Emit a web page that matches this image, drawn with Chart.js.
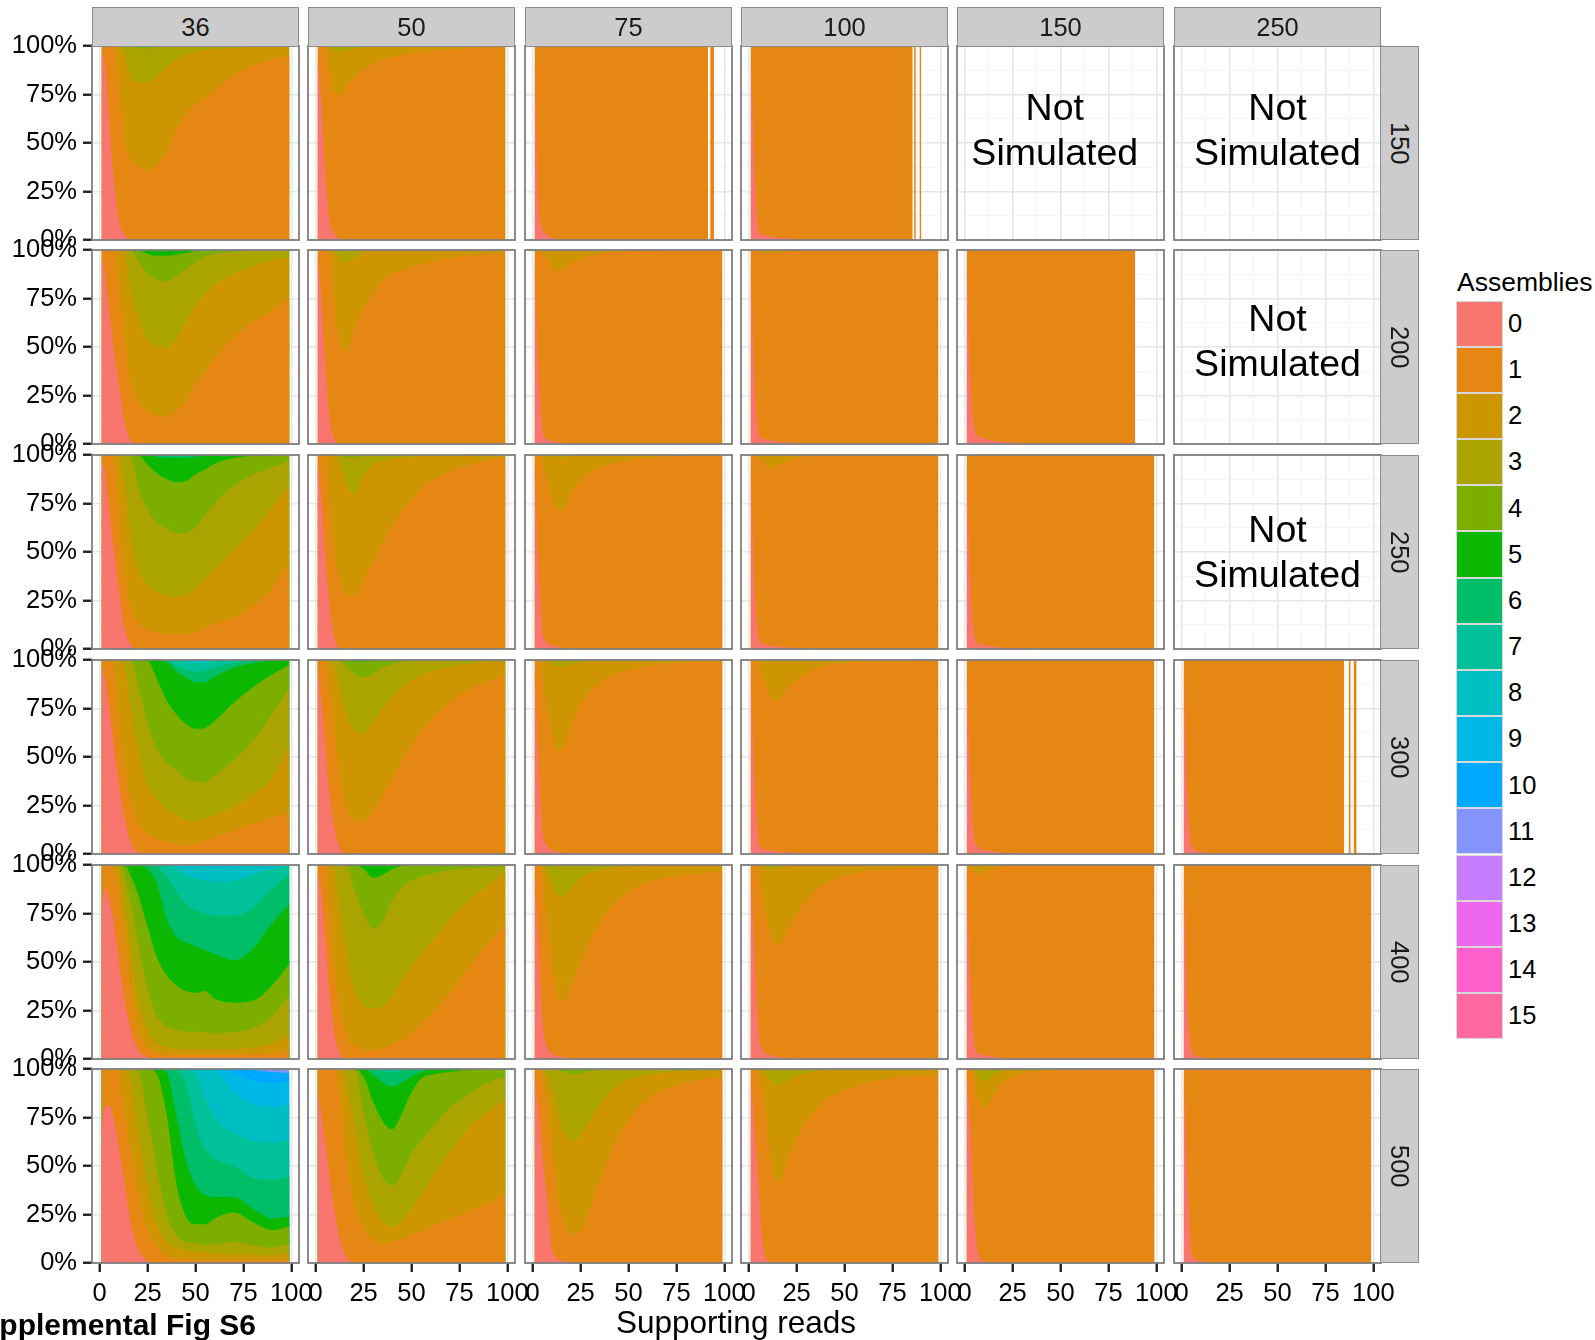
<!DOCTYPE html>
<html>
<head>
<meta charset="utf-8">
<title>Supplemental Fig S6</title>
<script src="https://cdn.jsdelivr.net/npm/chart.js@4.4.1/dist/chart.umd.min.js"></script>
<style>
  html, body { margin: 0; padding: 0; background: #fff; }
  body { width: 1595px; height: 1340px; position: relative; overflow: hidden;
         font-family: "Liberation Sans", Arial, Helvetica, sans-serif; color: #000; }
  .strip { position: absolute; box-sizing: border-box; background: #cccccc; border: 1.5px solid #8c8c8c;
           display: flex; align-items: center; justify-content: center; font-size: 25.5px; color: #1a1a1a; }
  .strip.side span { writing-mode: vertical-rl; }
  .key { position: absolute; box-sizing: border-box; width: 47px; border: 1px solid #d9d9d9; }
  .lab { position: absolute; white-space: nowrap; }
</style>
</head>
<body>
<script>
// facet labels: rows on the right strip, columns on the top strip
const readLengths = ['150', '200', '250', '300', '400', '500'];
const coverages = ['36', '50', '75', '100', '150', '250'];

// one colour per assembly count (ggplot hue palette, 16 levels)
const assemblyLevels = ['0', '1', '2', '3', '4', '5', '6', '7', '8', '9', '10', '11', '12', '13', '14', '15'];
const assemblyColors = ['#F8766D', '#E68613', '#CD9600', '#ABA300', '#7CAE00', '#0CB702', '#00BE67', '#00C19A',
                        '#00BFC4', '#00B8E7', '#00A9FF', '#8494FF', '#C77CFF', '#ED68ED', '#FF61CC', '#FF68A1'];

const reads = [1, 3, 5, 7, 10, 13, 16, 20, 25, 30, 35, 40, 45, 50, 55, 60, 70, 80, 90, 99];
const top100 = [100, 100, 100, 100, 100, 100, 100, 100, 100, 100, 100, 100, 100, 100, 100, 100, 100, 100, 100, 100];

// each panel: upper edge (cumulative %) of the band for 0, 1, 2 ... assemblies
const p150_36 = [
  [98, 89, 60, 35, 10, 3, 0.5, 0, 0, 0, 0, 0, 0, 0, 0, 0, 0, 0, 0, 0],
  [100, 100, 100, 100, 81, 52, 42, 38, 36, 39, 46, 57, 65, 70, 73, 77, 85, 90, 93, 95],
  [100, 100, 100, 100, 100, 95, 85, 81, 81.5, 84.5, 89, 93, 95.5, 97, 98, 98.5, 99, 99.5, 100, 100],
  [100, 100, 100, 100, 100, 100, 100, 99, 98.8, 99.3, 99.7, 100, 100, 100, 100, 100, 100, 100, 100, 100],
  top100
];
const p200_36 = [
  [98, 87, 68, 52, 31, 12, 2, 0, 0, 0, 0, 0, 0, 0, 0, 0, 0, 0, 0, 0],
  [100, 100, 100, 100, 82, 55, 33, 21, 17, 14.5, 14, 17, 22, 31, 37, 44, 55, 63, 69, 75],
  [100, 100, 100, 100, 100, 100, 80, 65, 54, 50.5, 49.5, 54, 63, 71, 77, 82, 87.5, 91.5, 94.5, 96],
  [100, 100, 100, 100, 100, 100, 100, 95, 88, 84.5, 84, 86.5, 90.5, 94, 96.5, 98, 99, 99.7, 100, 100],
  [100, 100, 100, 100, 100, 100, 100, 100, 98, 97, 97, 97.5, 98.5, 99.5, 100, 100, 100, 100, 100, 100],
  top100
];
const p250_36 = [
  [98, 90, 70, 55, 30, 11, 3, 0, 0, 0, 0, 0, 0, 0, 0, 0, 0, 0, 0, 0],
  [100, 100, 100, 100, 71, 40, 23, 14, 10, 8.5, 8, 7.5, 8, 9, 11, 13, 16, 22, 31, 45],
  [100, 100, 100, 100, 100, 85, 60, 42, 33, 29, 27.5, 27, 28, 31.5, 36, 41, 51, 61, 73, 85],
  [100, 100, 100, 100, 100, 100, 100, 84, 72, 65, 62, 59.5, 59.5, 63, 69, 75, 84, 90, 93.6, 97],
  [100, 100, 100, 100, 100, 100, 100, 100, 95, 90.5, 87.5, 86, 86.5, 90, 92.5, 95.5, 98.5, 99.5, 100, 100],
  [100, 100, 100, 100, 100, 100, 100, 100, 100, 99, 98.5, 98.5, 98.5, 99, 99.5, 100, 100, 100, 100, 100],
  top100
];
const p300_36 = [
  [98, 90, 75, 59, 36, 19, 6.5, 1, 0, 0, 0, 0, 0, 0, 0, 0, 0, 0, 0, 0],
  [100, 100, 100, 98, 67, 46, 28, 16, 10, 7.5, 6, 5, 4.5, 5, 7, 8.5, 12, 15.5, 18.5, 21.5],
  [100, 100, 100, 100, 100, 97, 76, 54, 35, 28, 23, 20, 17.5, 17, 18, 20, 24.5, 30.5, 39, 57],
  [100, 100, 100, 100, 100, 100, 100, 88, 67, 54, 47, 43, 39, 37.5, 37, 40.5, 48.5, 58.5, 72, 86],
  [100, 100, 100, 100, 100, 100, 100, 100, 99.5, 90, 79, 72, 67, 64.5, 65, 68.5, 78, 86, 92.5, 97.5],
  [100, 100, 100, 100, 100, 100, 100, 100, 100, 100, 99, 94, 91, 88.5, 88.5, 91.5, 96, 98.5, 99.7, 100],
  [100, 100, 100, 100, 100, 100, 100, 100, 100, 100, 99.5, 97, 95, 94, 94.5, 96, 98.5, 99.5, 100, 100],
  [100, 100, 100, 100, 100, 100, 100, 100, 100, 100, 100, 100, 99, 98.5, 98.5, 99.3, 100, 100, 100, 100],
  top100
];
const p400_36 = [
  [80, 88, 82, 73, 51, 30, 16, 5, 1, 0, 0, 0, 0, 0, 0, 0, 0, 0, 0, 0],
  [100, 100, 100, 98, 85, 60, 38, 16, 6, 3, 2, 2, 2, 2, 2, 2, 2, 2.5, 3, 4],
  [100, 100, 100, 100, 98, 80, 58, 32, 15, 8, 6, 5, 5, 5, 5, 5, 5, 6, 8, 13],
  [100, 100, 100, 100, 100, 95, 82, 60, 36, 22, 17, 15, 14, 14, 14, 13, 14, 16, 22, 33],
  [100, 100, 100, 100, 100, 100, 95, 85, 68, 52, 43, 38, 35, 34, 35, 31, 29, 30, 38, 49],
  [100, 100, 100, 100, 100, 100, 100, 100, 98, 90, 72, 63, 60, 58, 56, 54, 51, 57, 70, 80],
  [100, 100, 100, 100, 100, 100, 100, 100, 100, 99, 94, 86, 80, 77, 75, 74, 74, 78, 88, 95],
  [100, 100, 100, 100, 100, 100, 100, 100, 100, 100, 100, 98, 95, 93, 92, 91, 92, 95, 98, 99.5],
  [100, 100, 100, 100, 100, 100, 100, 100, 100, 100, 100, 100, 99.8, 99.5, 99, 99, 99.3, 99.7, 100, 100],
  top100
];
const p500_36 = [
  [70, 81, 81, 76, 60, 41, 22, 7.5, 1, 0, 0, 0, 0, 0, 0, 0, 0, 0, 0, 0],
  [100, 100, 100, 100, 96, 78, 59, 36, 17, 8, 4, 2.5, 2, 1.5, 1.5, 1.5, 1.5, 1.5, 1.5, 1.5],
  [100, 100, 100, 100, 100, 100, 94, 69, 39, 20, 11, 8, 6.5, 6, 5.5, 5, 4.5, 4, 4, 5],
  [100, 100, 100, 100, 100, 100, 100, 99, 75, 48, 25, 14, 11, 10, 9.5, 9.5, 11, 9, 8, 9.5],
  [100, 100, 100, 100, 100, 100, 100, 100, 100, 97, 76, 41, 24, 20, 20, 23, 26, 21, 17, 19],
  [100, 100, 100, 100, 100, 100, 100, 100, 100, 100, 98, 76, 53, 40, 35, 34, 34, 28, 23, 24],
  [100, 100, 100, 100, 100, 100, 100, 100, 100, 100, 100, 100, 92, 71, 59, 54, 50, 44, 43, 44.5],
  [100, 100, 100, 100, 100, 100, 100, 100, 100, 100, 100, 100, 100, 98, 85, 75, 67, 63, 62, 63.5],
  [100, 100, 100, 100, 100, 100, 100, 100, 100, 100, 100, 100, 100, 100, 100, 99.5, 88, 82, 80.5, 82],
  [100, 100, 100, 100, 100, 100, 100, 100, 100, 100, 100, 100, 100, 100, 100, 100, 98.5, 94, 92.5, 94],
  [100, 100, 100, 100, 100, 100, 100, 100, 100, 100, 100, 100, 100, 100, 100, 100, 100, 99.5, 98.5, 98],
  top100
];

const p150_50 = [
  [95, 70, 35, 12, 3, 0.5, 0, 0, 0, 0, 0, 0, 0, 0, 0, 0, 0, 0, 0, 0],
  [100, 100, 100, 88, 76, 75, 79, 84, 88, 91, 93, 94.5, 95.5, 96.5, 97, 97.5, 98.3, 99, 99.5, 99.7],
  [100, 100, 100, 99.5, 98, 97, 97.5, 98.5, 99.5, 100, 100, 100, 100, 100, 100, 100, 100, 100, 100, 100],
  top100
];
const p200_50 = [
  [98, 75, 41, 16, 2, 0, 0, 0, 0, 0, 0, 0, 0, 0, 0, 0, 0, 0, 0, 0],
  [100, 100, 100, 98, 70, 51, 48, 59, 70, 77.5, 84, 87.6, 89.5, 91.3, 92.5, 94, 95.8, 97, 97.8, 98.3],
  [100, 100, 100, 100, 99, 95, 93.5, 96, 99, 99.7, 100, 100, 100, 100, 100, 100, 100, 100, 100, 100],
  top100
];
const p250_50 = [
  [97, 77, 48, 25, 5, 0, 0, 0, 0, 0, 0, 0, 0, 0, 0, 0, 0, 0, 0, 0],
  [100, 100, 100, 80, 49, 34, 28, 28, 36, 45, 54.5, 63, 71, 77, 82.5, 86.5, 91.5, 95, 97.2, 98.6],
  [100, 100, 100, 100, 99.5, 94, 85, 80, 90, 95, 97, 98, 98.6, 99, 99.3, 99.5, 99.8, 100, 100, 100],
  [100, 100, 100, 100, 100, 100, 99, 99, 99.5, 100, 100, 100, 100, 100, 100, 100, 100, 100, 100, 100],
  top100
];
const p300_50 = [
  [97, 80, 55, 33, 12, 3, 0.5, 0, 0, 0, 0, 0, 0, 0, 0, 0, 0, 0, 0, 0],
  [100, 100, 100, 88, 62, 38, 24, 17, 17, 22, 30, 39, 48, 56, 63, 69, 78, 85, 89, 92],
  [100, 100, 100, 100, 96, 85, 72, 64, 62, 68, 75, 81, 86, 89.5, 92, 94, 96.5, 98, 99, 99.5],
  [100, 100, 100, 100, 100, 99, 97, 93, 91, 93, 96, 98, 99, 99.5, 100, 100, 100, 100, 100, 100],
  [100, 100, 100, 100, 100, 100, 100, 99.5, 99.2, 99.5, 100, 100, 100, 100, 100, 100, 100, 100, 100, 100],
  top100
];
const p400_50 = [
  [97, 85, 62, 37, 12, 2.5, 0, 0, 0, 0, 0, 0, 0, 0, 0, 0, 0, 0, 0, 0],
  [100, 100, 100, 82, 45, 25, 12, 7, 5, 4.6, 5.5, 7.5, 10, 13.5, 18, 23, 34, 47.5, 59, 70],
  [100, 100, 100, 100, 97, 74, 55, 36, 28, 26, 27, 32, 40.7, 47.5, 54, 60, 72, 82, 89.5, 95.7],
  [100, 100, 100, 100, 100, 100, 100, 88, 75, 67, 71, 82, 88.5, 92, 94, 95.5, 97.3, 98.2, 98.8, 99],
  [100, 100, 100, 100, 100, 100, 100, 100, 98, 93.5, 95, 98, 99.5, 100, 100, 100, 100, 100, 100, 100],
  top100
];
const p500_50 = [
  [88, 77, 62, 47, 26, 11, 3, 0, 0, 0, 0, 0, 0, 0, 0, 0, 0, 0, 0, 0],
  [100, 100, 100, 100, 100, 82, 53, 31, 17, 12, 10, 11, 12.5, 14.5, 16.5, 19, 22.5, 26.5, 31, 36],
  [100, 100, 100, 100, 100, 100, 93, 70, 45, 30, 21, 19, 22, 28, 35, 43, 57, 70, 78, 84],
  [100, 100, 100, 100, 100, 100, 100, 100, 78, 57, 44, 40, 46, 56, 63, 69, 80, 87, 93, 96],
  [100, 100, 100, 100, 100, 100, 100, 100, 96, 83, 73, 69, 77, 88, 95, 97, 98.5, 99.5, 100, 100],
  [100, 100, 100, 100, 100, 100, 100, 100, 100, 97, 93, 91, 93, 96, 98.5, 99.5, 100, 100, 100, 100],
  [100, 100, 100, 100, 100, 100, 100, 100, 100, 100, 99, 98.5, 99, 100, 100, 100, 100, 100, 100, 100],
  top100
];

// panels whose bars stop early or have empty read counts use their own x positions (null = no bar)
const x150_75 = [1, 3, 5, 7, 10, 13, 16, 20, 30, 50, 70, 91.5, 92, 92.6, 94.7];
const p150_75 = [
  [98, 20, 6, 3, 1.2, 0.5, 0.2, 0, 0, 0, 0, 0, null, 0, 0],
  [100, 100, 100, 100, 100, 100, 100, 100, 100, 100, 100, 100, null, 100, 100]
];
const p200_75 = [
  [98, 40, 8, 3, 1.5, 1, 0.5, 0.3, 0, 0, 0, 0, 0, 0, 0, 0, 0, 0, 0, 0],
  [100, 100, 99, 96, 92, 89, 90, 93, 95.5, 97, 98, 98.7, 99.2, 99.5, 99.7, 99.8, 100, 100, 100, 100],
  top100
];
const p250_75 = [
  [98, 45, 10, 4, 2, 1, 0.5, 0.2, 0, 0, 0, 0, 0, 0, 0, 0, 0, 0, 0, 0],
  [100, 100, 97, 88, 78, 72, 72, 80, 87, 91, 93.5, 95, 96.3, 97.2, 98, 98.5, 99.2, 99.6, 99.8, 100],
  [100, 100, 100, 100, 99.5, 99, 99, 99.5, 100, 100, 100, 100, 100, 100, 100, 100, 100, 100, 100, 100],
  top100
];
const p300_75 = [
  [98, 50, 12, 5, 2, 1, 0.5, 0, 0, 0, 0, 0, 0, 0, 0, 0, 0, 0, 0, 0],
  [100, 100, 92, 78, 63, 53, 55, 66, 77, 84, 88.5, 91.5, 93.5, 95, 96, 96.8, 98, 98.8, 99.3, 99.6],
  [100, 100, 100, 99.5, 98, 96.5, 96.5, 98, 99, 99.5, 100, 100, 100, 100, 100, 100, 100, 100, 100, 100],
  top100
];
const p400_75 = [
  [98, 60, 20, 8, 3, 1.5, 1, 0.5, 0, 0, 0, 0, 0, 0, 0, 0, 0, 0, 0, 0],
  [100, 100, 95, 75, 48, 32, 30, 38, 50, 61, 70, 77, 82, 86, 89, 91, 93.5, 95, 96, 96.5],
  [100, 100, 100, 97, 90, 85, 84, 88, 93, 96, 97.5, 98.5, 99, 99.4, 99.6, 99.7, 100, 100, 100, 100],
  top100
];
const p500_75 = [
  [98, 80, 55, 38, 8, 2, 1, 0.5, 0, 0, 0, 0, 0, 0, 0, 0, 0, 0, 0, 0],
  [100, 100, 95, 85, 60, 35, 22, 15, 17, 28, 42, 55, 66, 74, 80, 85, 90, 93, 95, 96],
  [100, 100, 100, 98, 90, 78, 68, 63, 66, 74, 82, 88, 92, 94.5, 96, 97, 98.3, 99, 99.3, 99.5],
  [100, 100, 100, 100, 100, 99.5, 98.5, 97.5, 98, 99, 99.6, 100, 100, 100, 100, 100, 100, 100, 100, 100],
  top100
];

const x150_100 = [1, 3, 5, 7, 10, 13, 16, 20, 25, 30, 40, 60, 85.6, 86, 86.3, 87.2, 88, 89.1, 90.1];
const p150_100 = [
  [99, 40, 5, 3, 2, 1.5, 1, 0.8, 0.5, 0.3, 0, 0, 0, null, 0, 0, null, 0, 0],
  [100, 100, 100, 100, 100, 100, 100, 100, 100, 100, 100, 100, 100, null, 100, 100, null, 100, 100]
];
const p200_100 = [
  [98, 35, 6, 3, 2, 1.5, 1, 0.8, 0.5, 0.3, 0, 0, 0, 0, 0, 0, 0, 0, 0, 0],
  [100, 100, 99.5, 99, 98.5, 98.5, 99, 99.5, 100, 100, 100, 100, 100, 100, 100, 100, 100, 100, 100, 100],
  top100
];
const p250_100 = [
  [98, 35, 6, 3, 2, 1.5, 1, 0.8, 0.5, 0.3, 0, 0, 0, 0, 0, 0, 0, 0, 0, 0],
  [100, 100, 99, 97, 94, 93.5, 95, 97, 98.5, 99.3, 100, 100, 100, 100, 100, 100, 100, 100, 100, 100],
  top100
];
const p300_100 = [
  [98, 40, 8, 3, 2, 1.5, 1, 0.8, 0.5, 0.3, 0, 0, 0, 0, 0, 0, 0, 0, 0, 0],
  [100, 100, 97, 92, 84, 79, 80, 85, 90, 93.5, 95.5, 97, 98, 98.5, 98.9, 99.2, 99.6, 99.8, 100, 100],
  top100
];
const p400_100 = [
  [98, 55, 15, 5, 2.5, 1.5, 1, 0.5, 0.3, 0, 0, 0, 0, 0, 0, 0, 0, 0, 0, 0],
  [100, 100, 95, 85, 70, 60, 59, 66, 75, 82, 87, 90.5, 93, 94.5, 95.5, 96.5, 97.5, 98.2, 98.7, 99],
  [100, 100, 100, 99.5, 98.5, 98, 98.5, 99.5, 100, 100, 100, 100, 100, 100, 100, 100, 100, 100, 100, 100],
  top100
];
const p500_100 = [
  [97, 70, 42, 14, 1, 0.5, 0.3, 0, 0, 0, 0, 0, 0, 0, 0, 0, 0, 0, 0, 0],
  [100, 100, 97, 90, 68, 45, 42, 52, 64, 73, 79, 84, 87, 89, 91, 92.5, 94.5, 96, 96.5, 97],
  [100, 100, 100, 99, 96, 93, 92, 94, 96.5, 98, 99, 99.5, 100, 100, 100, 100, 100, 100, 100, 100],
  top100
];

const x200_150 = [1, 3, 5, 7, 10, 13, 16, 20, 30, 40, 60, 89];
const p200_150 = [
  [98, 35, 8, 4, 3, 2, 1.5, 1, 0.5, 0, 0, 0],
  [100, 100, 100, 100, 100, 100, 100, 100, 100, 100, 100, 100]
];
const p250_150 = [
  [98, 35, 7, 3, 2, 1.5, 1, 0.7, 0.5, 0.3, 0, 0, 0, 0, 0, 0, 0, 0, 0, 0],
  top100
];
const p300_150 = [
  [98, 40, 8, 3.5, 2, 1.5, 1, 0.7, 0.5, 0.3, 0, 0, 0, 0, 0, 0, 0, 0, 0, 0],
  top100
];
const p400_150 = [
  [98, 40, 8, 3, 2, 1.5, 1, 0.7, 0.5, 0.3, 0, 0, 0, 0, 0, 0, 0, 0, 0, 0],
  [100, 99, 97, 95.5, 96, 97.5, 98.5, 99.3, 100, 100, 100, 100, 100, 100, 100, 100, 100, 100, 100, 100],
  top100
];
const p500_150 = [
  [98, 70, 25, 5, 1, 0.5, 0.3, 0, 0, 0, 0, 0, 0, 0, 0, 0, 0, 0, 0, 0],
  [100, 100, 95, 85, 80, 83, 88, 93, 96, 97.5, 98.5, 99, 99.3, 99.5, 99.6, 99.7, 100, 100, 100, 100],
  [100, 100, 99, 96, 94, 95, 97, 99, 100, 100, 100, 100, 100, 100, 100, 100, 100, 100, 100, 100],
  top100
];

const x300_250 = [1, 3, 5, 7, 10, 13, 20, 40, 60, 84.8, 86, 87.1, 88.2, 89, 89.7, 91.3];
const p300_250 = [
  [98, 30, 5, 2, 1, 0.5, 0, 0, 0, 0, null, 0, 0, null, 0, 0],
  [100, 100, 100, 100, 100, 100, 100, 100, 100, 100, null, 100, 100, null, 100, 100]
];
const p400_250 = [
  [98, 30, 5, 2, 1, 0.5, 0.3, 0, 0, 0, 0, 0, 0, 0, 0, 0, 0, 0, 0, 0],
  top100
];
const p500_250 = [
  [98, 45, 6, 2, 1, 0.5, 0, 0, 0, 0, 0, 0, 0, 0, 0, 0, 0, 0, 0, 0],
  top100
];

// axis ticks
const xMajor = [0, 25, 50, 75, 100];
const xMinor = [12.5, 37.5, 62.5, 87.5];
const yMajor = [0, 25, 50, 75, 100];
const yMinor = [12.5, 37.5, 62.5, 87.5];

// which panel holds which data; missing entries were not simulated
const panels = {
  '150': { '36': [reads, p150_36], '50': [reads, p150_50], '75': [x150_75, p150_75], '100': [x150_100, p150_100] },
  '200': { '36': [reads, p200_36], '50': [reads, p200_50], '75': [reads, p200_75], '100': [reads, p200_100], '150': [x200_150, p200_150] },
  '250': { '36': [reads, p250_36], '50': [reads, p250_50], '75': [reads, p250_75], '100': [reads, p250_100], '150': [reads, p250_150] },
  '300': { '36': [reads, p300_36], '50': [reads, p300_50], '75': [reads, p300_75], '100': [reads, p300_100], '150': [reads, p300_150], '250': [x300_250, p300_250] },
  '400': { '36': [reads, p400_36], '50': [reads, p400_50], '75': [reads, p400_75], '100': [reads, p400_100], '150': [reads, p400_150], '250': [reads, p400_250] },
  '500': { '36': [reads, p500_36], '50': [reads, p500_50], '75': [reads, p500_75], '100': [reads, p500_100], '150': [reads, p500_150], '250': [reads, p500_250] }
};
// where the "Not Simulated" note sits (x in reads, y in %)
const notes = { '150|150': [47, 57], '150|250': [50, 57], '200|250': [50, 53.5], '250|250': [50, 50.5] };

// layout of the facet grid (px)
const FONT = '"Liberation Sans", Arial, Helvetica, sans-serif';
const GX = 91.7, GDX = 216.4, GW = 207;
const GY = 45.7, GDY = 204.7, GH = 194;
const PAD = 24, XAXIS_H = 62;

Chart.defaults.font.family = FONT;

// panel border + optional note, drawn on top of the bands
const panelFrame = {
  id: 'panelFrame',
  afterDraw(chart, args, opts) {
    const { ctx, chartArea: a, scales } = chart;
    ctx.save();
    if (opts.note) {
      const cx = scales.x.getPixelForValue(opts.note[0]);
      const cy = scales.y.getPixelForValue(opts.note[1]);
      ctx.fillStyle = '#000';
      ctx.font = '37.5px ' + FONT;
      ctx.textAlign = 'center';
      ctx.textBaseline = 'alphabetic';
      ctx.fillText('Not', cx, cy - 22.4 + 13.4);
      ctx.fillText('Simulated', cx, cy + 22.4 + 13.4);
    }
    ctx.strokeStyle = '#7f7f7f';
    ctx.lineWidth = 1.8;
    ctx.strokeRect(a.left, a.top, a.right - a.left, a.bottom - a.top);
    ctx.restore();
  }
};

function makePanel(rowLab, colLab, r, c) {
  const left = Math.round(GX + c * GDX);
  const top = Math.round(GY + r * GDY);
  const isLeft = c === 0;
  const isBottom = r === readLengths.length - 1;
  const padL = isLeft ? left : PAD;
  const padB = isBottom ? XAXIS_H : PAD;

  const box = document.createElement('div');
  box.style.cssText = `position:absolute;left:${left - padL}px;top:${top - PAD}px;` +
    `width:${padL + GW + PAD}px;height:${PAD + GH + padB}px;`;
  const cv = document.createElement('canvas');
  box.appendChild(cv);
  document.body.appendChild(box);

  const entry = panels[rowLab][colLab];
  const datasets = [];
  if (entry) {
    const [xs, bands] = entry;
    bands.forEach((vals, k) => {
      datasets.push({
        label: assemblyLevels[k],
        data: xs.map((x, i) => ({ x: x, y: vals[i] })),
        backgroundColor: assemblyColors[k],
        borderColor: 'rgba(0,0,0,0)',
        borderWidth: 0,
        pointRadius: 0,
        fill: 'origin',
        cubicInterpolationMode: 'monotone',
        spanGaps: false
      });
    });
  }

  const gridColor = (majors) => (ctx) => ctx.tick && majors.includes(ctx.tick.value) ? '#e6e6e6' : '#f4f4f4';
  const gridWidth = (majors) => (ctx) => ctx.tick && majors.includes(ctx.tick.value) ? 1.5 : 1;
  const tickColor = (majors) => (ctx) => ctx.tick && majors.includes(ctx.tick.value) ? '#222' : 'rgba(0,0,0,0)';

  new Chart(cv, {
    type: 'line',
    data: { datasets },
    options: {
      animation: false,
      responsive: true,
      maintainAspectRatio: false,
      events: [],
      layout: { autoPadding: false, padding: { left: isLeft ? 0 : PAD, right: PAD, top: PAD, bottom: isBottom ? 0 : PAD } },
      plugins: {
        legend: { display: false },
        tooltip: { enabled: false },
        panelFrame: { note: notes[rowLab + '|' + colLab] || null }
      },
      scales: {
        x: {
          type: 'linear', min: -4, max: 104,
          afterBuildTicks: (s) => { s.ticks = xMajor.concat(xMinor).sort((a, b) => a - b).map(v => ({ value: v })); },
          afterFit: (s) => { s.height = isBottom ? XAXIS_H : 0; },
          border: { display: false },
          grid: { color: gridColor(xMajor), lineWidth: gridWidth(xMajor), drawTicks: isBottom,
                  tickLength: 9, tickWidth: 2.4, tickColor: tickColor(xMajor) },
          ticks: { display: isBottom, autoSkip: false, maxRotation: 0, minRotation: 0, padding: 7,
                   color: '#000', font: { size: 25.5 },
                   callback: (v) => xMajor.includes(v) ? String(v) : '' }
        },
        y: {
          type: 'linear', min: 0, max: 100,
          afterBuildTicks: (s) => { s.ticks = yMajor.concat(yMinor).sort((a, b) => a - b).map(v => ({ value: v })); },
          afterFit: (s) => { s.width = isLeft ? left : 0; },
          border: { display: false },
          grid: { color: gridColor(yMajor), lineWidth: gridWidth(yMajor), drawTicks: isLeft,
                  tickLength: 9, tickWidth: 2.4, tickColor: tickColor(yMajor) },
          ticks: { display: isLeft, autoSkip: false, padding: 6,
                   color: '#000', font: { size: 25.5 },
                   callback: (v) => yMajor.includes(v) ? v + '%' : '' }
        }
      }
    },
    plugins: [panelFrame]
  });
}

function addDiv(cls, css, text) {
  const d = document.createElement('div');
  if (cls) d.className = cls;
  d.style.cssText = css;
  if (text !== undefined) d.innerHTML = text;
  document.body.appendChild(d);
  return d;
}

readLengths.forEach((rl, r) => coverages.forEach((cl, c) => makePanel(rl, cl, r, c)));

// top strips (columns)
coverages.forEach((cl, c) => {
  const left = Math.round(GX + c * GDX);
  addDiv('strip', `left:${left}px;top:7px;width:${GW}px;height:${Math.round(GY) - 7 + 1}px;`, cl);
});
// right strips (rows)
readLengths.forEach((rl, r) => {
  const top = Math.round(GY + r * GDY);
  const right = Math.round(GX + 5 * GDX) + GW;
  addDiv('strip side', `left:${right - 1}px;top:${top}px;width:39px;height:${GH}px;`, '<span>' + rl + '</span>');
});

// legend
addDiv('lab', `left:1457px;top:${282 - 13.25}px;font-size:26.5px;line-height:26.5px;`, 'Assemblies');
assemblyLevels.forEach((lv, k) => {
  const y = 300.7 + k * 46.15;
  addDiv('key', `left:1456px;top:${y}px;height:46.15px;background:${assemblyColors[k]};`);
  addDiv('lab', `left:1508px;top:${y + 23.07 - 12.75}px;font-size:25.5px;line-height:25.5px;`, lv);
});

// axis title and figure tag
addDiv('lab', `left:0;width:1472px;text-align:center;top:1307px;font-size:31.5px;line-height:31.5px;`, 'Supporting reads');
addDiv('lab', `left:-39px;top:1310px;font-size:30px;line-height:30px;font-weight:bold;`, 'Supplemental Fig S6');
</script>
</body>
</html>
